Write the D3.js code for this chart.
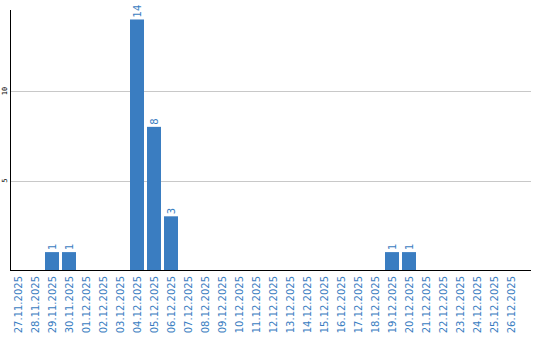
<!DOCTYPE html>
<html>
<head>
<meta charset="utf-8">
<script src="https://d3js.org/d3.v7.min.js"></script>
<style>
  html, body { margin: 0; padding: 0; background: #fff; }
  svg { display: block; }
</style>
</head>
<body>
<svg id="chart" width="540" height="340"></svg>
<script>
// ── Data ──
const dates = [
  '27.11.2025', '28.11.2025', '29.11.2025', '30.11.2025', '01.12.2025', '02.12.2025',
  '03.12.2025', '04.12.2025', '05.12.2025', '06.12.2025', '07.12.2025', '08.12.2025',
  '09.12.2025', '10.12.2025', '11.12.2025', '12.12.2025', '13.12.2025', '14.12.2025',
  '15.12.2025', '16.12.2025', '17.12.2025', '18.12.2025', '19.12.2025', '20.12.2025',
  '21.12.2025', '22.12.2025', '23.12.2025', '24.12.2025', '25.12.2025', '26.12.2025'
];
const counts = [0, 0, 1, 1, 0, 0, 0, 14, 8, 3, 0, 0, 0, 0, 0, 0, 0, 0, 0, 0, 0, 0, 1, 1, 0, 0, 0, 0, 0, 0];
const yTicks = [5, 10];

const BLUE = '#3a7dc1';
const svg = d3.select('#chart');

const plotLeft = 11, plotBottom = 270, plotTop = 10, plotRight = 531;

const x = d3.scaleBand().domain(dates).range([plotLeft, 518]).paddingInner(3 / 17).paddingOuter(0);
const y = d3.scaleLinear().domain([0, 14.53]).range([plotBottom, plotTop]);

// gridlines
svg.append('g').selectAll('line').data(yTicks).enter().append('line')
  .attr('x1', plotLeft).attr('x2', plotRight)
  .attr('y1', d => Math.round(y(d)) + 0.5).attr('y2', d => Math.round(y(d)) + 0.5)
  .attr('stroke', '#c8c8c8').attr('stroke-width', 1);

// y tick labels (rotated)
svg.append('g').selectAll('text').data(yTicks).enter().append('text')
  .attr('transform', d => `translate(7,${y(d)}) rotate(-90)`)
  .attr('text-anchor', 'middle')
  .attr('font-family', 'DejaVu Sans Mono, monospace').attr('font-size', '7px')
  .attr('fill', '#000').text(d => d);

// bars
const rows = dates.map((d, i) => ({ date: d, value: counts[i] }));
svg.append('g').selectAll('rect').data(rows.filter(r => r.value > 0)).enter().append('rect')
  .attr('x', d => x(d.date)).attr('width', x.bandwidth())
  .attr('y', d => y(d.value)).attr('height', d => plotBottom - y(d.value))
  .attr('fill', BLUE);

// value labels
svg.append('g').selectAll('text').data(rows.filter(r => r.value > 0)).enter().append('text')
  .attr('transform', d => `translate(${x(d.date) + x.bandwidth() / 2 + 3.5},${y(d.value) - 2}) rotate(-90)`)
  .attr('font-family', 'DejaVu Sans, sans-serif').attr('font-size', '10px')
  .attr('fill', BLUE).text(d => d.value);

// axes lines
svg.append('line').attr('x1', 10.5).attr('x2', 10.5).attr('y1', plotTop).attr('y2', plotBottom + 1)
  .attr('stroke', '#000').attr('stroke-width', 1);
svg.append('line').attr('x1', 10).attr('x2', plotRight).attr('y1', plotBottom + 0.5).attr('y2', plotBottom + 0.5)
  .attr('stroke', '#000').attr('stroke-width', 1.2);

// x labels
svg.append('g').selectAll('text').data(dates).enter().append('text')
  .attr('transform', d => `translate(${x(d) + x.bandwidth() / 2 + 3.5},${plotBottom + 6}) rotate(-90)`)
  .attr('text-anchor', 'end')
  .attr('font-family', 'DejaVu Sans, sans-serif').attr('font-size', '10px')
  .attr('fill', BLUE).text(d => d);
</script>
</body>
</html>
